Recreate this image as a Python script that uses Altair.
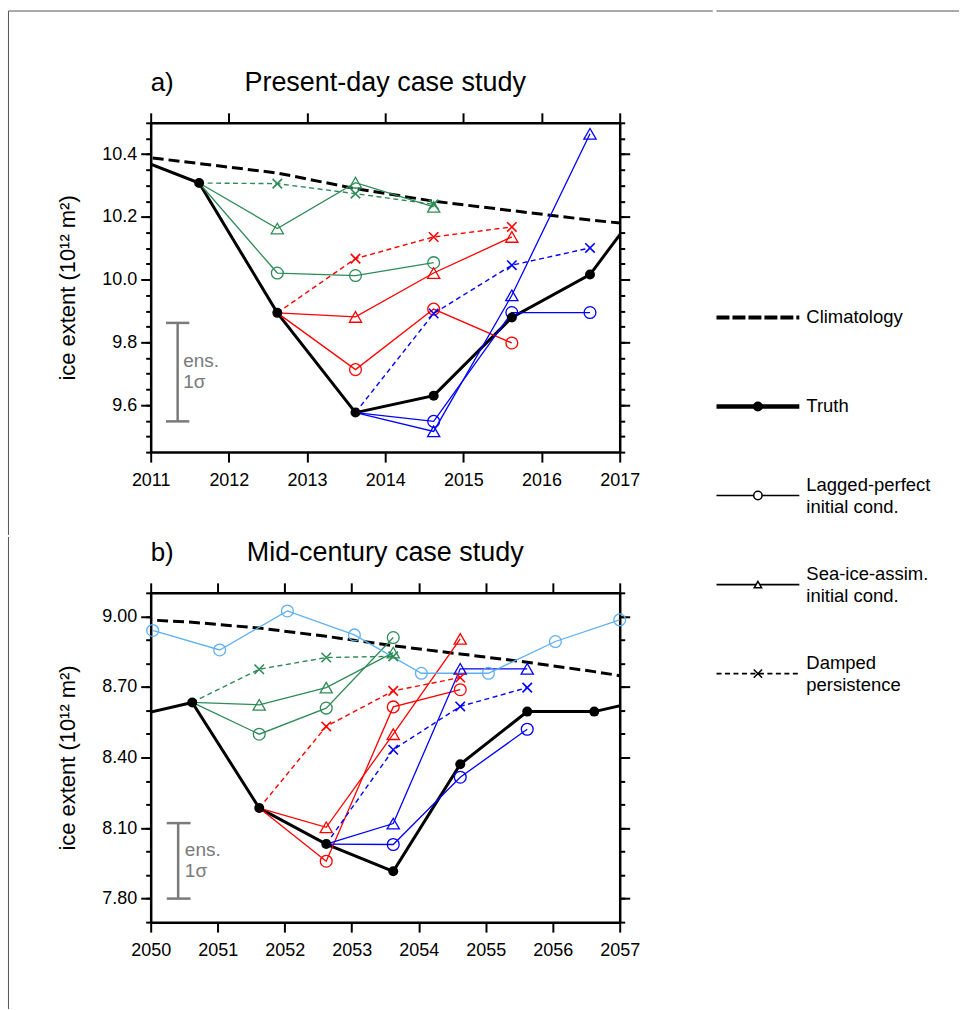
import altair as alt
import pandas as pd

FONT = "Liberation Sans"
GREEN = "#2e8b57"
RED = "#ff0000"
BLUE = "#0000ff"
LBLUE = "#5fb0f2"
GRAY = "#7a7a7a"
BORDER = "#5a5058"
X_SHAPE = "M-1,-1L1,1M-1,1L1,-1"

# ---------------- panel a: present-day ----------------
a_years_truth = [2010.62, 2011.62, 2012.62, 2013.62, 2014.62, 2015.62, 2016.62, 2017.62]
a_truth = [10.405, 10.308, 9.894, 9.576, 9.630, 9.879, 10.016, 10.35]
a_clim = [10.40, 10.37, 10.34, 10.29, 10.25, 10.22, 10.19, 10.165]

a_green_years = [2011.62, 2012.62, 2013.62, 2014.62]
a_green_lagged = [10.308, 10.021, 10.013, 10.054]
a_green_assim = [10.308, 10.163, 10.309, 10.232]
a_green_damped = [10.308, 10.306, 10.274, 10.240]

a_red_years = [2012.62, 2013.62, 2014.62, 2015.62]
a_red_lagged = [9.894, 9.713, 9.906, 9.798]
a_red_assim = [9.894, 9.881, 10.021, 10.136]
a_red_damped = [9.894, 10.067, 10.136, 10.168]

a_blue_years = [2013.62, 2014.62, 2015.62, 2016.62]
a_blue_lagged = [9.576, 9.548, 9.895, 9.895]
a_blue_assim = [9.576, 9.516, 9.950, 10.465]
a_blue_damped = [9.576, 9.892, 10.046, 10.101]

a_xticks = [2011, 2012, 2013, 2014, 2015, 2016, 2017]
a_ymajor = [9.6, 9.8, 10.0, 10.2, 10.4]
a_yminor = [9.45, 9.5, 9.55, 9.6, 9.65, 9.7, 9.75, 9.8, 9.85, 9.9, 9.95, 10.0,
            10.05, 10.1, 10.15, 10.2, 10.25, 10.3, 10.35, 10.4, 10.45, 10.5]
a_ens = {"x": 2011.345, "lo": 9.548, "hi": 9.862, "cap_l": 2011.196, "cap_r": 2011.494,
         "tx": 2011.417, "ty": 9.741}

# ---------------- panel b: mid-century ----------------
b_years_truth = [2049.62, 2050.62, 2051.62, 2052.62, 2053.62, 2054.62, 2055.62, 2056.62, 2057.62]
b_truth = [8.568, 8.634, 8.185, 8.032, 7.916, 8.371, 8.595, 8.595, 8.66]
b_clim = [8.99, 8.975, 8.95, 8.915, 8.875, 8.84, 8.805, 8.765, 8.72]

b_green_years = [2050.62, 2051.62, 2052.62, 2053.62]
b_green_lagged = [8.634, 8.499, 8.610, 8.910]
b_green_assim = [8.634, 8.624, 8.697, 8.846]
b_green_damped = [8.634, 8.775, 8.825, 8.830]

b_red_years = [2051.62, 2052.62, 2053.62, 2054.62]
b_red_lagged = [8.185, 7.959, 8.615, 8.688]
b_red_assim = [8.185, 8.103, 8.499, 8.904]
b_red_damped = [8.185, 8.532, 8.683, 8.740]

b_blue_years = [2052.62, 2053.62, 2054.62, 2055.62]
b_blue_lagged = [8.032, 8.030, 8.316, 8.520]
b_blue_assim = [8.032, 8.119, 8.777, 8.777]
b_blue_damped = [8.032, 8.433, 8.617, 8.697]

b_lblue_years = [2050.03, 2051.03, 2052.04, 2053.04, 2054.04, 2055.04, 2056.04, 2057.0]
b_lblue_lagged = [8.940, 8.857, 9.023, 8.921, 8.758, 8.758, 8.893, 8.985]

b_xticks = [2050, 2051, 2052, 2053, 2054, 2055, 2056, 2057]
b_ymajor = [7.8, 8.1, 8.4, 8.7, 9.0]
b_yminor = [7.7, 7.8, 7.9, 8.0, 8.1, 8.2, 8.3, 8.4, 8.5, 8.6, 8.7, 8.8, 8.9, 9.0, 9.1]
b_ens = {"x": 2050.41, "lo": 7.80, "hi": 8.121, "cap_l": 2050.24, "cap_r": 2050.595,
         "tx": 2050.51, "ty": 8.005}

# ---------------- legend ----------------
leg_labels = ["Climatology", "Truth", "Lagged-perfect\ninitial cond.",
              "Sea-ice-assim.\ninitial cond.", "Damped\npersistence"]
leg_keys = ["clim", "truth", "lagged", "assim", "damped"]

W, H = 470, 330
ONE = pd.DataFrame({"n": [0]})


def series(sid, color, kind, years, vals, first_marker=1):
    return [dict(sid=sid, color=color, kind=kind, year=y, val=v, mk=(i >= first_marker))
            for i, (y, v) in enumerate(zip(years, vals))]


def forecasts(groups):
    rows = []
    for name, color, years, lag, ass, dmp in groups:
        rows += series(name + "_lag", color, "lagged", years, lag)
        rows += series(name + "_ass", color, "assim", years, ass)
        rows += series(name + "_dmp", color, "damped", years, dmp)
    return rows


def page_rule(x, x2, y, y2):
    # thin page frame line (decoration, outside the plot area)
    return alt.Chart(ONE).mark_rule(color=BORDER, strokeWidth=1).encode(
        x=alt.value(x), x2=alt.value(x2), y=alt.value(y), y2=alt.value(y2))


def make_panel(letter, title, xdom, xticks, ydom, ymaj, ymin, yfmt,
               tyears, tvals, cvals, fc_rows, ens, frame_rules):
    xs = alt.Scale(domain=xdom, nice=False, zero=False)
    ys = alt.Scale(domain=ydom, nice=False, zero=False)
    common = dict(tickColor="black", tickWidth=2, domainColor="black", domainWidth=2.5,
                  grid=False, title=None)
    ax_bottom = alt.Axis(orient="bottom", values=xticks, format="d", labelFontSize=18,
                         labelFont=FONT, labelColor="black", labelPadding=9, tickSize=10,
                         labelFlush=False, **common)
    ax_top = alt.Axis(orient="top", values=xticks, labels=False, tickSize=10, **common)
    ax_left = alt.Axis(orient="left", values=ymaj, format=yfmt, labelFontSize=18,
                       labelFont=FONT, labelColor="black", labelPadding=4, tickSize=10,
                       tickColor="black", tickWidth=2, domainColor="black", domainWidth=2.5,
                       grid=False, title="ice extent (10¹² m²)", titleFont=FONT,
                       titleFontSize=22, titleFontWeight="normal", titleColor="black",
                       titlePadding=22)
    ax_right = alt.Axis(orient="right", values=ymaj, labels=False, tickSize=10, **common)
    ax_lmin = alt.Axis(orient="left", values=ymin, labels=False, tickSize=5, domain=False,
                       tickColor="black", tickWidth=2, grid=False, title=None)
    ax_rmin = alt.Axis(orient="right", values=ymin, labels=False, tickSize=5, domain=False,
                       tickColor="black", tickWidth=2, grid=False, title=None)

    ref = pd.DataFrame({"year": tyears, "truth": tvals, "clim": cvals})
    truth_pts = ref[(ref.year > xdom[0]) & (ref.year < xdom[1])]
    fc = pd.DataFrame(fc_rows)

    def X(axis=None):
        return alt.X("year:Q", scale=xs, axis=axis)

    def Y(field, axis=None):
        return alt.Y(field, scale=ys, axis=axis)

    clim = alt.Chart(ref).mark_line(clip=True, color="black", strokeWidth=3,
                                    strokeDash=[11, 5]).encode(
        x=X(ax_bottom), y=Y("clim:Q", ax_left))
    frame = alt.Chart(ref).mark_line(opacity=0, clip=True).encode(
        x=X(ax_top), y=Y("clim:Q", ax_right))
    lmin = alt.Chart(ref).mark_line(opacity=0, clip=True).encode(
        x=X(), y=Y("clim:Q", ax_lmin))
    rmin = alt.Chart(ref).mark_line(opacity=0, clip=True).encode(
        x=X(), y=Y("clim:Q", ax_rmin))
    truth = alt.Chart(ref).mark_line(clip=True, color="black", strokeWidth=3).encode(
        x=X(), y=Y("truth:Q"))
    tdots = alt.Chart(truth_pts).mark_circle(size=100, color="black", opacity=1).encode(
        x=X(), y=Y("truth:Q"))

    col = alt.Color("color:N", scale=None)
    solid = alt.Chart(fc[fc.kind != "damped"]).mark_line(strokeWidth=1.3, clip=True).encode(
        x=X(), y=Y("val:Q"), color=col, detail="sid:N")
    dashed = alt.Chart(fc[fc.kind == "damped"]).mark_line(
        strokeWidth=1.4, strokeDash=[5, 3.5], clip=True).encode(
        x=X(), y=Y("val:Q"), color=col, detail="sid:N")
    mk = fc[fc.mk]
    circles = alt.Chart(mk[mk.kind == "lagged"]).mark_point(
        shape="circle", filled=False, size=140, strokeWidth=1.3, opacity=1).encode(
        x=X(), y=Y("val:Q"), color=col)
    tris = alt.Chart(mk[mk.kind == "assim"]).mark_point(
        shape="triangle-up", filled=False, size=150, strokeWidth=1.3, opacity=1).encode(
        x=X(), y=Y("val:Q"), color=col)
    crosses = alt.Chart(mk[mk.kind == "damped"]).mark_point(
        shape=X_SHAPE, filled=False, size=90, strokeWidth=1.6, opacity=1).encode(
        x=X(), y=Y("val:Q"), color=col)

    ens_df = pd.DataFrame([ens])
    bar = alt.Chart(ens_df).mark_rule(color=GRAY, strokeWidth=2.5).encode(
        x=alt.X("x:Q", scale=xs, axis=None), y=Y("lo:Q"), y2="hi:Q")
    cap_lo = alt.Chart(ens_df).mark_rule(color=GRAY, strokeWidth=2.5).encode(
        x=alt.X("cap_l:Q", scale=xs, axis=None), x2="cap_r:Q", y=Y("lo:Q"))
    cap_hi = alt.Chart(ens_df).mark_rule(color=GRAY, strokeWidth=2.5).encode(
        x=alt.X("cap_l:Q", scale=xs, axis=None), x2="cap_r:Q", y=Y("hi:Q"))
    ens_txt = alt.Chart(ens_df).mark_text(
        align="left", baseline="middle", fontSize=19, font=FONT, color=GRAY,
        lineBreak="\n", lineHeight=21).encode(
        x=alt.X("tx:Q", scale=xs, axis=None), y=Y("ty:Q"), text=alt.value("ens.\n1σ"))

    heads = pd.DataFrame({"t": [letter, title]})
    lab = alt.Chart(heads[heads.t == letter]).mark_text(
        align="left", baseline="alphabetic", fontSize=26, font=FONT, color="black").encode(
        x=alt.value(0), y=alt.value(-32), text="t:N")
    ttl = alt.Chart(heads[heads.t == title]).mark_text(
        align="center", baseline="alphabetic", fontSize=27, font=FONT, color="black").encode(
        x=alt.value(W / 2), y=alt.value(-32), text="t:N")

    layers = [clim, frame, lmin, rmin, truth, solid, dashed, circles, tris, crosses,
              tdots, bar, cap_lo, cap_hi, ens_txt, lab, ttl] + frame_rules
    return alt.layer(*layers).resolve_axis(
        x="independent", y="independent").properties(width=W, height=H)


panel_a = make_panel(
    "a)", "Present-day case study", [2011, 2017], a_xticks, [9.45, 10.5], a_ymajor,
    a_yminor, ".1f", a_years_truth, a_truth, a_clim,
    forecasts([("g", GREEN, a_green_years, a_green_lagged, a_green_assim, a_green_damped),
               ("r", RED, a_red_years, a_red_lagged, a_red_assim, a_red_damped),
               ("b", BLUE, a_blue_years, a_blue_lagged, a_blue_assim, a_blue_damped)]),
    a_ens,
    [page_rule(-142.5, -142.5, -112, 413), page_rule(-142.5, 563.3, -112, -112)])

b_rows = forecasts([("g", GREEN, b_green_years, b_green_lagged, b_green_assim, b_green_damped),
                    ("r", RED, b_red_years, b_red_lagged, b_red_assim, b_red_damped),
                    ("b", BLUE, b_blue_years, b_blue_lagged, b_blue_assim, b_blue_damped)])
b_rows += series("lb_lag", LBLUE, "lagged", b_lblue_years, b_lblue_lagged, first_marker=0)

panel_b = make_panel(
    "b)", "Mid-century case study", [2050, 2057], b_xticks, [7.7, 9.1], b_ymajor,
    b_yminor, ".2f", b_years_truth, b_truth, b_clim, b_rows, b_ens,
    [page_rule(-142.5, -142.5, -56, 417)])

# ---------------- legend chart ----------------
leg = pd.DataFrame({"k": list(range(len(leg_keys))), "key": leg_keys, "label": leg_labels})
leg["multi"] = leg.label.str.contains("\n")
ly = alt.Scale(domain=[-2.185, 5.658], reverse=True, nice=False, zero=False)
LW = 83


def lrule(key, width, dash=None):
    kw = dict(color="black", strokeWidth=width)
    if dash:
        kw["strokeDash"] = dash
    return alt.Chart(leg[leg.key == key]).mark_rule(**kw).encode(
        x=alt.value(0), x2=alt.value(LW), y=alt.Y("k:Q", scale=ly, axis=None))


def lsym(key, **kw):
    return alt.Chart(leg[leg.key == key]).mark_point(color="black", opacity=1, **kw).encode(
        x=alt.value(LW / 2), y=alt.Y("k:Q", scale=ly, axis=None))


def ltext(df, dy):
    return alt.Chart(df).mark_text(
        align="left", baseline="middle", fontSize=18.5, font=FONT, color="black",
        lineBreak="\n", lineHeight=22, dx=7, dy=dy).encode(
        x=alt.value(LW), y=alt.Y("k:Q", scale=ly, axis=None), text="label:N")


legend = alt.layer(
    lrule("clim", 4, [13, 3]),
    lrule("truth", 4.5),
    lrule("lagged", 1.6),
    lrule("assim", 1.6),
    lrule("damped", 1.6, [5, 3.5]),
    lsym("truth", shape="circle", filled=True, size=100),
    lsym("lagged", shape="circle", filled=False, fill="white", size=70, strokeWidth=1.5),
    lsym("assim", shape="triangle-up", filled=False, fill="white", size=55, strokeWidth=1.5),
    lsym("damped", shape=X_SHAPE, filled=False, size=70, strokeWidth=1.5),
    ltext(leg[~leg.multi], 0),
    ltext(leg[leg.multi], -11),
    page_rule(0, 243, -112, -112),
).properties(width=LW, height=700)

left = alt.vconcat(panel_a, panel_b, spacing=0)
chart = alt.hconcat(left, legend, spacing=0).properties(
    padding={"left": 8, "top": 9, "right": 0, "bottom": 0}, background="white"
).configure(font=FONT).configure_view(strokeWidth=0, stroke="transparent")

chart.save("out.html", embed_options={"renderer": "svg", "actions": False})
